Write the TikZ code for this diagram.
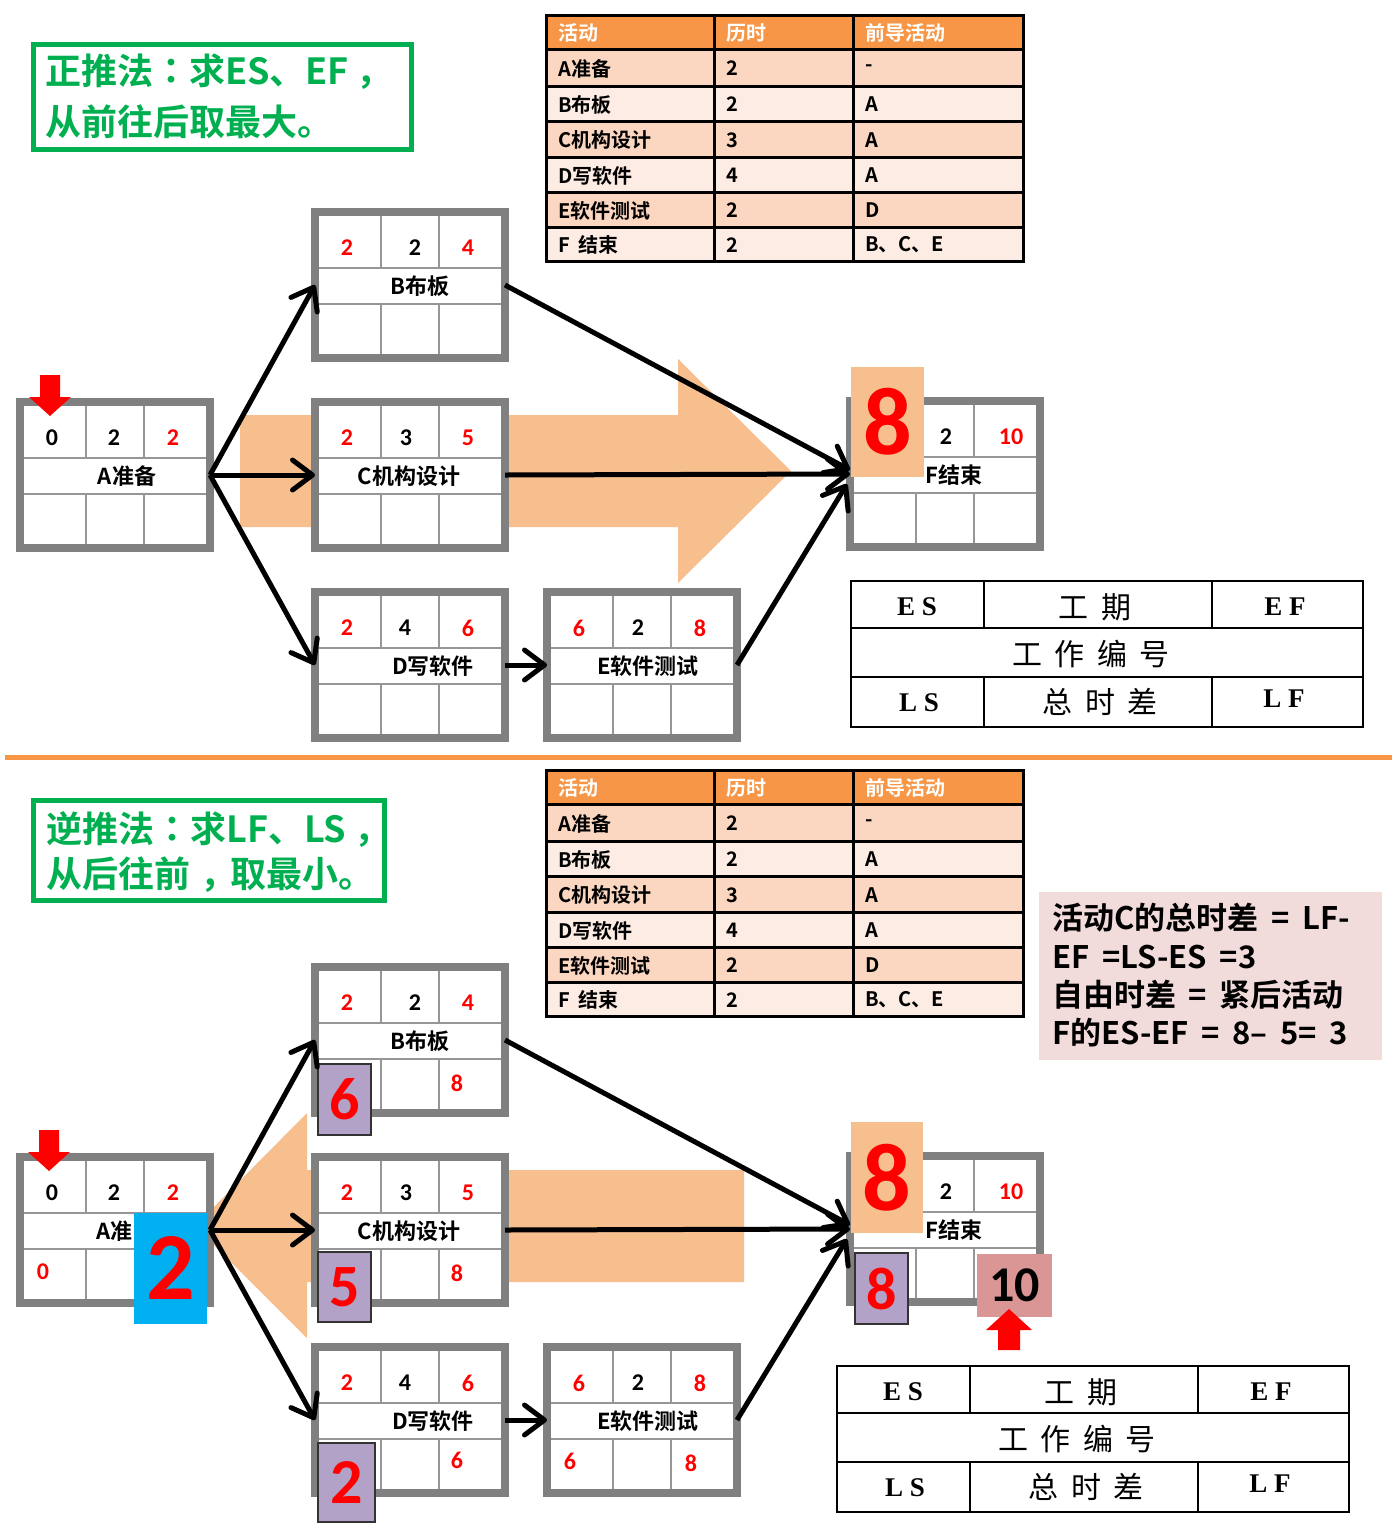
\documentclass[tikz,border=0pt]{standalone}
\usepackage{fontspec}
\usetikzlibrary{arrows.meta}
\setmainfont{Carlito}
\newfontfamily\cjk{Noto Sans CJK SC}[BoldFont={Noto Sans CJK SC Bold}]
\newfontfamily\cjktc{Noto Sans CJK TC}[BoldFont={Noto Sans CJK TC Bold}]
\newfontfamily\cjksp{Noto Sans CJK SC}[WordSpace=2]
\newfontfamily\cjknote{Noto Sans CJK SC}[BoldFont={Noto Sans CJK SC Bold}, WordSpace=1.8]
\newfontfamily\carl{Carlito}
\newfontfamily\tnr{Liberation Serif}
\definecolor{boxgray}{RGB}{128,128,128}
\definecolor{linegray}{RGB}{150,150,150}
\definecolor{peach}{RGB}{247,190,142}
\definecolor{xred}{RGB}{255,0,0}
\definecolor{xgreen}{RGB}{0,176,80}
\definecolor{xorange}{RGB}{247,150,70}
\definecolor{rowdark}{RGB}{251,214,192}
\definecolor{rowlight}{RGB}{253,236,228}
\definecolor{xpurple}{RGB}{179,162,199}
\definecolor{xcyan}{RGB}{0,176,240}
\definecolor{xpink}{RGB}{217,150,148}
\definecolor{notepink}{RGB}{242,220,219}
\tikzset{
  actframe/.style={draw=boxgray, line width=8pt, fill=white, minimum width=190pt, minimum height=146pt, inner sep=0pt, outer sep=0pt},
  innerl/.style={draw=linegray, line width=2pt},
  num/.style={font=\carl\bfseries\fontsize{24}{28}\selectfont, inner sep=0pt},
  lab/.style={font=\cjk\bfseries\fontsize{22}{26}\selectfont, inner sep=0pt},
  conn/.style={line width=5pt, -{Straight Barb[length=20pt,width=30pt,round]}},
  tline/.style={draw=black, line width=3pt},
  tbody/.style={font=\cjk\bfseries\fontsize{20}{24}\selectfont, inner sep=0pt},
  thead/.style={font=\cjk\bfseries\fontsize{20}{24}\selectfont, text=white, inner sep=0pt},
  lline/.style={draw=black, line width=1.5pt},
  lgl/.style={font=\tnr\bfseries\fontsize{27}{30}\selectfont, inner sep=0pt},
  lgc/.style={font=\cjksp\fontsize{30}{34}\selectfont, inner sep=0pt},
  greenbox/.style={draw=xgreen, line width=5pt},
  greentext/.style={font=\cjk\bfseries\fontsize{36}{40}\selectfont, text=xgreen, inner sep=0pt, anchor=west},
  notetext/.style={font=\cjknote\bfseries\fontsize{31}{36}\selectfont, inner sep=0pt, anchor=west},
  bignum/.style={font=\carl\bfseries\fontsize{96}{100}\selectfont, text=xred, inner sep=0pt},
  purpbox/.style={fill=xpurple, draw=black!80, line width=1.5pt, inner sep=0pt, font=\carl\bfseries\fontsize{60}{64}\selectfont, text=xred},
  smallred/.style={font=\carl\bfseries\fontsize{24}{28}\selectfont, text=xred, inner sep=0pt},
}
% #1 name, #2 x, #3 y, #4 ES, #5 dur, #6 EF, #7 label, #8 label x offset, #9 dur x offset
\newcommand\actbox[9]{%
  \node[actframe] (#1) at (#2+99,#3+77) {};
  \draw[innerl] (#2+8,#3+60) -- (#2+190,#3+60);
  \draw[innerl] (#2+8,#3+96) -- (#2+190,#3+96);
  \draw[innerl] (#2+70,#3+8) -- (#2+70,#3+60);
  \draw[innerl] (#2+128,#3+8) -- (#2+128,#3+60);
  \draw[innerl] (#2+70,#3+96) -- (#2+70,#3+146);
  \draw[innerl] (#2+128,#3+96) -- (#2+128,#3+146);
  \node[num, text=xred] (#1-es) at (#2+36,#3+40) {#4};
  \node[num] (#1-du) at (#2+#9,#3+40) {#5};
  \node[num, text=xred] (#1-ef) at (#2+157,#3+40) {#6};
  \node[lab] (#1-nm) at (#2+#8,#3+78) {#7};
}
% #1 name, #2 ytop, #3 ybot, #4 fill, #5 style, #6-#8 texts
\newcommand\trow[8]{%
  \fill[#4] (546,#2) rectangle (1023,#3);
  \node[#5, anchor=west] (#1a) at (558,{(#2+#3)/2+1}) {#6};
  \node[#5, anchor=west] (#1b) at (726,{(#2+#3)/2+1}) {#7};
  \node[#5, anchor=west] (#1c) at (865,{(#2+#3)/2+1}) {#8};
}
\newcommand\acttable[2]{%
  \trow{#1h}{#2}{#2+34}{xorange}{thead}{活动}{历时}{前导活动}
  \trow{#1r1}{#2+34}{#2+71}{rowdark}{tbody}{A准备}{2}{-}
  \trow{#1r2}{#2+71}{#2+106}{rowlight}{tbody}{B布板}{2}{A}
  \trow{#1r3}{#2+106}{#2+142}{rowdark}{tbody}{C机构设计}{3}{A}
  \trow{#1r4}{#2+142}{#2+177}{rowlight}{tbody}{D写软件}{4}{A}
  \trow{#1r5}{#2+177}{#2+212}{rowdark}{tbody}{E软件测试}{2}{D}
  \trow{#1r6}{#2+212}{#2+246}{rowlight}{tbody}{F 结束}{2}{B、C、E}
  \foreach \yy in {34,71,106,142,177,212} {\draw[tline] (546,#2+\yy) -- (1023,#2+\yy);}
  \draw[tline] (714,#2) -- (714,#2+246);
  \draw[tline] (853,#2) -- (853,#2+246);
  \draw[tline] (546,#2) rectangle (1023,#2+246);
}
\newcommand\legendtab[3]{%
  \draw[lline] (#2,#3) rectangle (#2+512,#3+146);
  \draw[lline] (#2,#3+47) -- (#2+512,#3+47);
  \draw[lline] (#2,#3+96) -- (#2+512,#3+96);
  \draw[lline] (#2+133,#3) -- (#2+133,#3+47);
  \draw[lline] (#2+361,#3) -- (#2+361,#3+47);
  \draw[lline] (#2+133,#3+96) -- (#2+133,#3+146);
  \draw[lline] (#2+361,#3+96) -- (#2+361,#3+146);
  \node[lgl] (#1es) at (#2+66,#3+26) {E S};
  \node[lgc] (#1gq) at (#2+244,#3+26) {工 期};
  \node[lgl] (#1ef) at (#2+434,#3+26) {E F};
  \node[lgc] (#1bh) at (#2+240,#3+73) {工 作 编 号};
  \node[lgl] (#1ls) at (#2+68,#3+122) {L S};
  \node[lgc] (#1zs) at (#2+249,#3+121) {总 时 差};
  \node[lgl] (#1lf) at (#2+433,#3+118) {L F};
}
\begin{document}
\begin{tikzpicture}[x=1pt,y=-1pt]
\useasboundingbox (0,0) rectangle (1392,1532);
\fill[white] (0,0) rectangle (1392,1532);

% ---------------- top half ----------------
\fill[peach] (240,415) -- (678,415) -- (678,359) -- (791,471) -- (678,583) -- (678,527) -- (240,527) -- cycle;

\draw[greenbox] (33.5,44.5) rectangle (411.5,149.5);
\node[greentext] (g1a) at (45,72) {正推法{\cjktc\bfseries ：}求ES、EF\kern8pt，};
\node[greentext] (g1b) at (45,122) {从前往后取最大。};

\acttable{ta}{15}

\actbox{A}{16}{398}{\textcolor{black}{0}}{2}{2}{A准备}{111}{98}
\actbox{B}{311}{208}{2}{2}{4}{B布板}{109}{104}
\actbox{C}{311}{398}{2}{3}{5}{C机构设计}{98}{95}
\actbox{D}{311}{588}{2}{4}{6}{D写软件}{122}{94}
\actbox{E}{543}{588}{6}{2}{8}{E软件测试}{105}{95}
\actbox{F}{846}{397}{}{2}{}{F结束}{108}{100}
\node[smallred] (F-efv) at (1011,437) {10};

\node[fill=peach, minimum width=73pt, minimum height=110pt, inner sep=0pt, bignum] (F8) at (887.5,422) {8};
\fill[xred] (40,375) -- (60,375) -- (60,397) -- (71,397) -- (50,416) -- (29,397) -- (40,397) -- cycle;

\legendtab{la}{851}{581}

\draw[conn] (A.east) -- (B.west);
\draw[conn] (A.east) -- (C.west);
\draw[conn] (A.east) -- (D.west);
\draw[conn] (B.east) -- ([yshift=4pt]F.west);
\draw[conn] (C.east) -- (F.west);
\draw[conn] (D.east) -- (E.west);
\draw[conn] (E.east) -- ([xshift=-3pt,yshift=-10pt]F.west);

% separator
\draw[xorange, line width=5pt] (5,757) -- (1392,757);

% ---------------- bottom half ----------------
\fill[peach] (744,1170) -- (307,1170) -- (307,1113) -- (195,1226) -- (307,1338) -- (307,1282) -- (744,1282) -- cycle;

\draw[greenbox] (33.5,800.5) rectangle (384.5,900.5);
\node[greentext] (g2a) at (46,829) {逆推法{\cjktc\bfseries ：}求LF、LS\kern8pt，};
\node[greentext] (g2b) at (46,875) {从后往前\kern10pt，\kern-6pt取最小。};

\acttable{tb}{770}

\fill[notepink] (1039,892) rectangle (1382,1060);
\node[notetext] (n1) at (1052,918) {活动C的总时差 = LF-};
\node[notetext] (n2) at (1052,957) {EF =LS-ES =3};
\node[notetext] (n3) at (1052,995) {自由时差 = 紧后活动};
\node[notetext] (n4) at (1052,1033) {F的ES-EF = 8– 5= 3};

\actbox{A2}{16}{1153}{\textcolor{black}{0}}{2}{2}{}{111}{98}
\node[lab, anchor=east] (A2-nmv) at (133,1231) {A准};
\actbox{B2}{311}{963}{2}{2}{4}{B布板}{109}{104}
\actbox{C2}{311}{1153}{2}{3}{5}{C机构设计}{98}{95}
\actbox{D2}{311}{1343}{2}{4}{6}{D写软件}{122}{94}
\actbox{E2}{543}{1343}{6}{2}{8}{E软件测试}{105}{95}
\actbox{F2}{846}{1152}{}{2}{}{F结束}{108}{100}
\node[smallred] (F2-efv) at (1011,1192) {10};

\node[smallred] (A2-ls) at (43,1272) {0};
\node[smallred] (B2-lf) at (457,1083) {8};
\node[smallred] (C2-lf) at (457,1273) {8};
\node[smallred] (D2-lf) at (457,1460) {6};
\node[smallred] (E2-ls) at (570,1461) {6};
\node[smallred] (E2-lf) at (691,1463) {8};

\node[fill=peach, minimum width=72pt, minimum height=111pt, inner sep=0pt, bignum] (F28) at (887,1177.5) {8};
\node[fill=xcyan, minimum width=73pt, minimum height=111pt, inner sep=0pt, bignum] (A2tf) at (170.5,1268.5) {2};
\node[purpbox, minimum width=53pt, minimum height=71pt] (B2tf) at (344.5,1099.5) {6};
\node[purpbox, minimum width=53pt, minimum height=70pt] (C2tf) at (344.5,1287) {5};
\node[purpbox, minimum width=57pt, minimum height=79pt, font=\carl\bfseries\fontsize{64}{68}\selectfont] (D2tf) at (346.5,1482.5) {2};
\node[purpbox, minimum width=53pt, minimum height=71pt] (F2tf) at (881.5,1288.5) {8};
\node[fill=xpink, minimum width=75pt, minimum height=63pt, inner sep=0pt, font=\carl\bfseries\fontsize{50}{54}\selectfont] (F2lf) at (1014.5,1285.5) {10};

\fill[xred] (39,1130) -- (59,1130) -- (59,1152) -- (70,1152) -- (49,1171) -- (28,1152) -- (39,1152) -- cycle;
\fill[xred] (998,1350) -- (1020,1350) -- (1020,1330) -- (1032,1330) -- (1009,1309) -- (986,1330) -- (998,1330) -- cycle;

\legendtab{lb}{837}{1366}

\draw[conn] (A2.east) -- (B2.west);
\draw[conn] (A2.east) -- (C2.west);
\draw[conn] (A2.east) -- (D2.west);
\draw[conn] (B2.east) -- ([yshift=4pt]F2.west);
\draw[conn] (C2.east) -- (F2.west);
\draw[conn] (D2.east) -- (E2.west);
\draw[conn] (E2.east) -- ([xshift=-3pt,yshift=-10pt]F2.west);
\end{tikzpicture}
\end{document}
